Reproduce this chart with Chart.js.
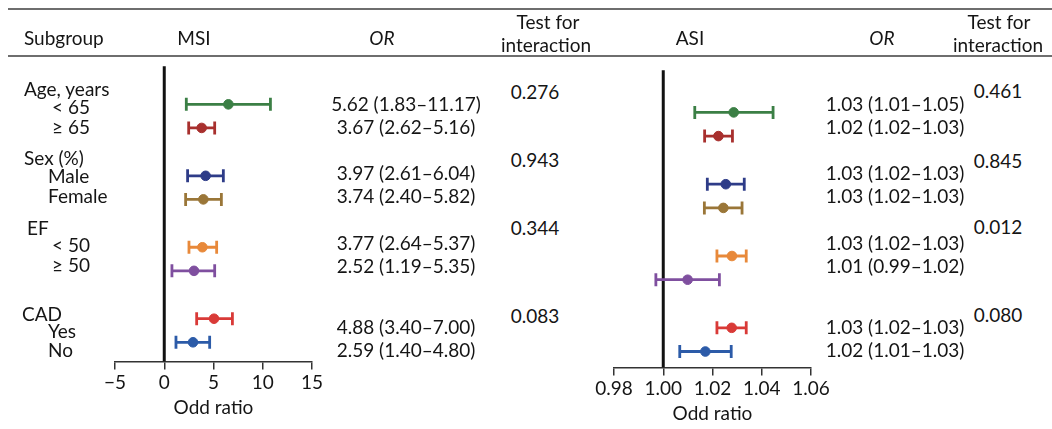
<!DOCTYPE html>
<html>
<head>
<meta charset="utf-8">
<script src="https://cdn.jsdelivr.net/npm/chart.js@4.4.1/dist/chart.umd.min.js"></script>
<style>
    body { margin: 0; background: #fff; }
    #wrap { position: relative; width: 1052px; height: 429px; overflow: hidden; font-family: Lato, "Open Sans", sans-serif; color: #151515; }
    #wrap canvas { position: absolute; top: 0; }
    .t { position: absolute; font-size: 19px; line-height: 22px; white-space: nowrap; transform: translate(-50%, -50%); }
    .l { position: absolute; font-size: 19px; line-height: 22px; white-space: nowrap; transform: translateY(-50%); }
    .rule { position: absolute; left: 8px; right: 0; height: 2px; background: #6e6e6e; }
</style>
</head>
<body>
<div id="wrap">
    <div class="rule" style="top:8px"></div>
    <div class="rule" style="top:55px"></div>
    <canvas id="msiChart" width="340" height="429" style="left:0"></canvas>
    <canvas id="asiChart" width="290" height="429" style="left:560px"></canvas>
</div>
<script>
const groups = ['Age, years', 'Sex (%)', 'EF', 'CAD'];
const subgroups = [['< 65', '≥ 65'], ['Male', 'Female'], ['< 50', '≥ 50'], ['Yes', 'No']];

const msiEst  = [6.51, 3.80, 4.20, 3.97, 3.87, 3.02, 5.05, 2.92];
const msiLow  = [2.24, 2.48, 2.37, 2.17, 2.51, 0.78, 3.29, 1.19];
const msiHigh = [10.78, 5.12, 6.00, 5.80, 5.32, 5.12, 6.92, 4.61];
const msiOrText = ['5.62 (1.83–11.17)', '3.67 (2.62–5.16)', '3.97 (2.61–6.04)', '3.74 (2.40–5.82)',
                   '3.77 (2.64–5.37)', '2.52 (1.19–5.35)', '4.88 (3.40–7.00)', '2.59 (1.40–4.80)'];
const msiP = ['0.276', '0.943', '0.344', '0.083'];

const asiEst  = [1.0286, 1.0224, 1.0254, 1.0244, 1.0279, 1.0099, 1.0278, 1.0171];
const asiLow  = [1.0128, 1.0168, 1.0179, 1.0167, 1.0218, 0.9970, 1.0218, 1.0067];
const asiHigh = [1.0446, 1.0281, 1.0329, 1.0320, 1.0337, 1.0228, 1.0337, 1.0276];
const asiOrText = ['1.03 (1.01–1.05)', '1.02 (1.02–1.03)', '1.03 (1.02–1.03)', '1.03 (1.02–1.03)',
                   '1.03 (1.02–1.03)', '1.01 (0.99–1.02)', '1.03 (1.02–1.03)', '1.02 (1.01–1.03)'];
const asiP = ['0.461', '0.845', '0.012', '0.080'];

const msiTicks = [-5, 0, 5, 10, 15];
const asiTicks = [0.98, 1.00, 1.02, 1.04, 1.06];

const rowColors = ['#3b7f45', '#a8302e', '#2e3c88', '#9a7638', '#e8893a', '#7f4f9f', '#d93a37', '#2c5ba8'];

// row position = group index * gap + item index
const GROUP_GAP = 3.03;
const rowPos = [];
subgroups.forEach((items, g) => items.forEach((_, i) => rowPos.push(g * GROUP_GAP + i)));

const wrap = document.getElementById('wrap');
function addText(txt, x, y, cls, extra) {
    const d = document.createElement('div');
    d.className = cls;
    d.textContent = txt;
    d.style.left = x + 'px';
    d.style.top = y + 'px';
    if (extra) Object.assign(d.style, extra);
    wrap.appendChild(d);
}

// headers
addText('Subgroup', 24, 38, 'l');
addText('MSI', 194, 38, 't');
addText('OR', 382, 38, 't', { fontStyle: 'italic' });
addText('Test for', 548, 22, 't');
addText('interaction', 546, 45, 't');
addText('ASI', 690, 38, 't');
addText('OR', 882, 38, 't', { fontStyle: 'italic' });
addText('Test for', 999, 22, 't');
addText('interaction', 998, 45, 't');

// subgroup labels
const groupLabelPos = [[24, 89], [24, 158], [27, 228], [22, 314]];
const subLabelPos = [[[52, 107], [52, 127]], [[48, 176], [48, 196]], [[52, 245], [52, 265]], [[48, 331], [48, 350]]];
groups.forEach((g, gi) => {
    addText(g, groupLabelPos[gi][0], groupLabelPos[gi][1], 'l');
    subgroups[gi].forEach((s, si) => addText(s, subLabelPos[gi][si][0], subLabelPos[gi][si][1], 'l'));
});

// OR text and p values
const orTextY = [104, 127, 173, 196, 243, 266, 327, 350];
msiOrText.forEach((t, i) => addText(t, 406, orTextY[i], 't'));
asiOrText.forEach((t, i) => addText(t, 895, orTextY[i], 't'));
const msiPY = [92, 160, 228, 316];
const asiPY = [91, 161, 227, 315];
msiP.forEach((p, i) => addText(p, 535, msiPY[i], 't'));
asiP.forEach((p, i) => addText(p, 998, asiPY[i], 't'));

function buildPanel(id, est, low, high, ticks, ref, layout) {
    const datasets = est.map((e, i) => ({
        data: [{ x: low[i], y: rowPos[i] }, { x: e, y: rowPos[i] }, { x: high[i], y: rowPos[i] }],
        showLine: true,
        borderColor: rowColors[i],
        backgroundColor: rowColors[i],
        borderWidth: 2.8,
        pointStyle: ['line', 'circle', 'line'],
        rotation: [90, 0, 90],
        pointRadius: [6.5, 4.8, 6.5],
        pointBorderWidth: [2.8, 1, 2.8],
        pointBorderColor: rowColors[i]
    }));
    // reference line
    datasets.push({
        data: [{ x: ref, y: layout.lineTop }, { x: ref, y: layout.yMax }],
        showLine: true,
        borderColor: '#111',
        borderWidth: 3,
        pointRadius: 0
    });

    const step = ticks[1] - ticks[0];
    new Chart(document.getElementById(id).getContext('2d'), {
        type: 'scatter',
        data: { datasets },
        options: {
            responsive: false,
            animation: false,
            layout: { padding: layout.padding },
            plugins: { legend: { display: false }, tooltip: { enabled: false } },
            scales: {
                x: {
                    type: 'linear',
                    min: ticks[0],
                    max: ticks[ticks.length - 1],
                    border: { display: true, color: '#333', width: 1.5 },
                    grid: { drawOnChartArea: false, drawTicks: true, tickLength: 8, color: '#333', lineWidth: 1.5 },
                    ticks: {
                        stepSize: step,
                        color: '#151515',
                        font: { family: 'Lato', size: 19 },
                        padding: 2,
                        callback: v => layout.decimals ? v.toFixed(layout.decimals) : String(v).replace('-', '\u2212')
                    },
                    title: { display: true, text: 'Odd ratio', color: '#151515', font: { family: 'Lato', size: 19 }, padding: { top: 0, bottom: 4 } }
                },
                y: { type: 'linear', display: false, reverse: true, min: layout.yMin, max: layout.yMax }
            }
        }
    });
}

buildPanel('msiChart', msiEst, msiLow, msiHigh, msiTicks, 0, {
    padding: { left: 115, right: 28, top: 56, bottom: 6 },
    yMin: -2.05, yMax: 10.9, lineTop: -1.62, decimals: 0
});
buildPanel('asiChart', asiEst, asiLow, asiHigh, asiTicks, 1, {
    padding: { left: 54, right: 39, top: 56, bottom: 0 },
    yMin: -2.38, yMax: 10.76, lineTop: -1.78, decimals: 2
});
</script>
</body>
</html>
